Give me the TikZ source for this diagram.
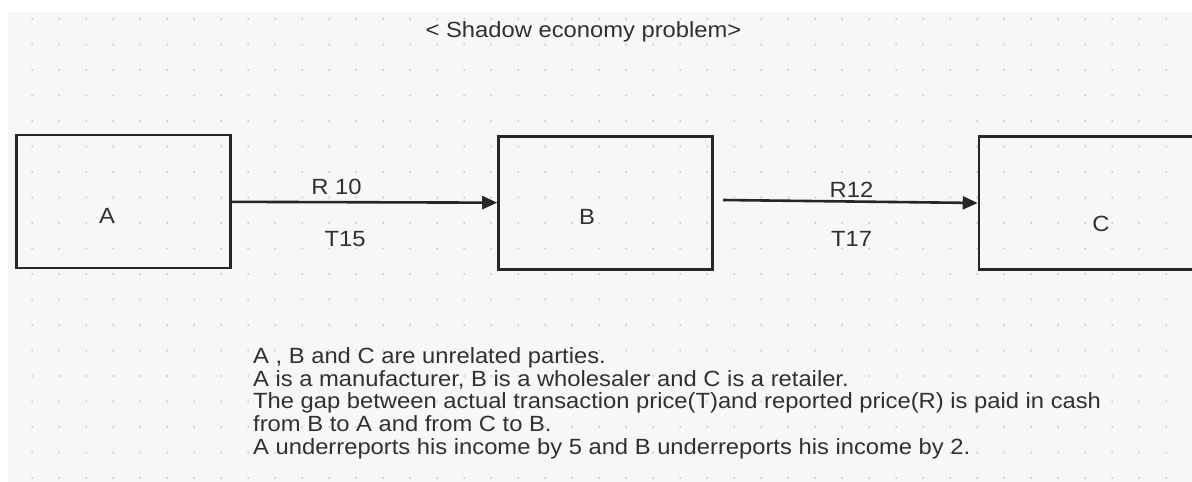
\documentclass[tikz,border=0pt]{standalone}
\usepackage{fontspec}
\setmainfont{Liberation Sans}[FakeStretch=1.08]
\usepackage{tikz}
\usetikzlibrary{arrows.meta, positioning}

\definecolor{bggrey}{HTML}{F7F7F8}
\definecolor{dotgrey}{HTML}{CDCDCF}
\definecolor{linegrey}{HTML}{262626}
\definecolor{txtgrey}{HTML}{303030}

\begin{document}
\begin{tikzpicture}[
      x=1pt, y=-1pt,
      box/.style={draw=linegrey, line width=2.6pt, minimum width=214pt,
                  minimum height=133pt, inner sep=0pt},
      lbl/.style={text=txtgrey, font=\fontsize{22}{22.6}\selectfont,
                  inner sep=0pt, anchor=base},
      arrow/.style={-{Triangle[length=15pt, width=13pt]}, line width=2.6pt,
                    draw=linegrey}
    ]
    \clip (0,0) rectangle (1192,482);
    \fill[bggrey] (8,12) rectangle (1192,482);
    \foreach \i in {0,...,43}
      \foreach \j in {0,...,18}
        \fill[dotgrey] (32.3+27*\i, 19+25.5*\j) circle (1.1);

    \node[lbl] (title) at (583.5,37) {< Shadow economy problem>};

    \node[box] (a) at (123.5,201.5) {};
    \node[box] (b) at (605.5,203) {};
    \node[box, minimum width=230pt] (c) at (1094,203) {};
    \node[lbl] (alabel) at (107,223) {A};
    \node[lbl] (blabel) at (587,224) {B};
    \node[lbl] (clabel) at (1101,231) {C};

    \coordinate (bout) at (723,200);
    \draw[arrow] (a) -- (b);
    \draw[arrow] (bout) -- (c.west);
    \node[lbl] (r10) at (336.5,194) {R 10};
    \node[lbl] (t15) at (345,246) {T15};
    \node[lbl] (r12) at (851.5,197) {R12};
    \node[lbl] (t17) at (851.5,246) {T17};

    \node[lbl, anchor=north west, align=left] (notes) at (253,347.5)
      {A , B and C are unrelated parties.\\
       A is a manufacturer, B is a wholesaler and C is a retailer.\\
       The gap between actual transaction price(T)and reported price(R) is paid in cash\\
       from B to A and from C to B.\\
       A underreports his income by 5 and B underreports his income by 2.};
  \end{tikzpicture}
\end{document}
